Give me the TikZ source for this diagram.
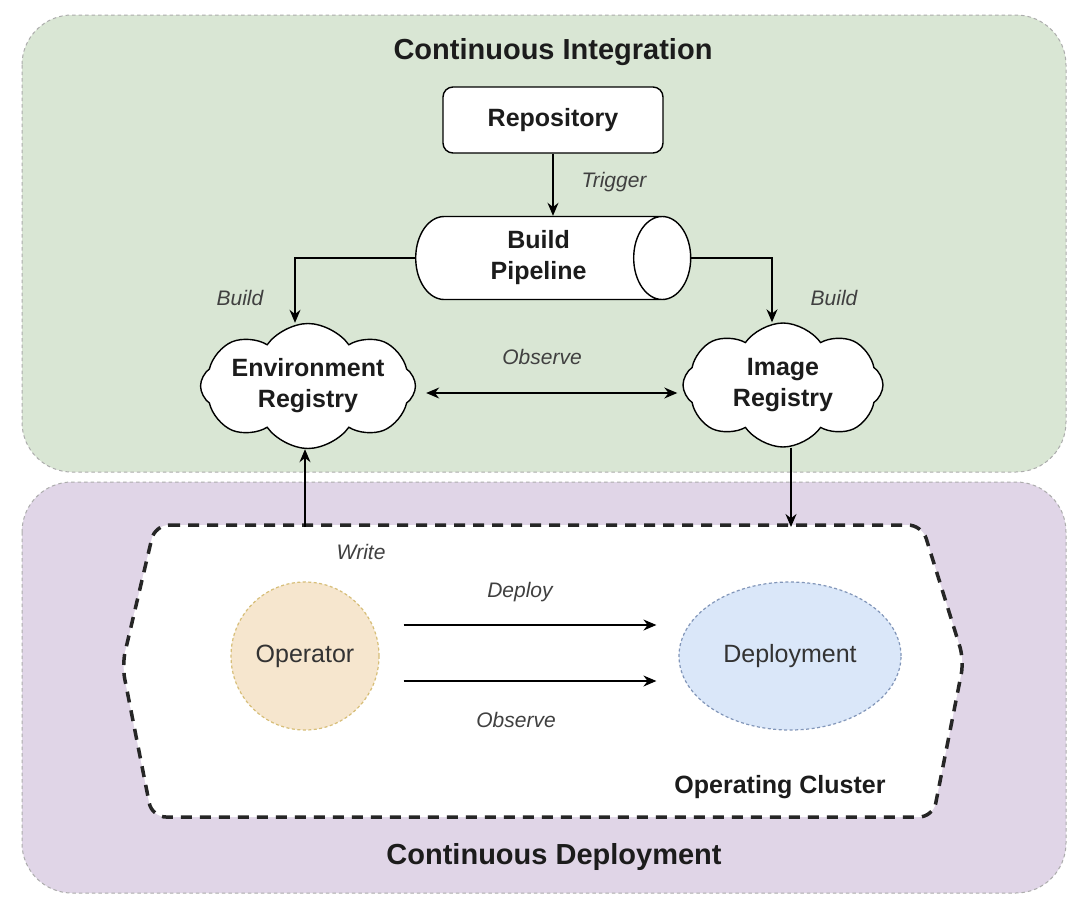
\documentclass[tikz,border=0pt]{standalone}
\usepackage{fontspec}
\setmainfont{Liberation Sans}
\usetikzlibrary{shapes.geometric,shapes.symbols,arrows.meta,calc}
\definecolor{cigreen}{RGB}{217,230,212}
\definecolor{cdpurple}{RGB}{224,213,231}
\definecolor{opfill}{RGB}{246,230,206}
\definecolor{opdraw}{RGB}{215,190,120}
\definecolor{depfill}{RGB}{218,231,249}
\definecolor{depdraw}{RGB}{130,150,185}
\definecolor{lblcol}{RGB}{64,64,64}
\definecolor{txtcol}{RGB}{28,28,28}
\begin{document}
\begin{tikzpicture}[x=1pt,y=-1pt,
  container/.style={draw=gray!65, dash pattern=on 3.5pt off 3pt, line width=1pt, rounded corners=50pt},
  titletxt/.style={font=\fontsize{29}{34}\selectfont\bfseries, text=txtcol},
  boxtxt/.style={font=\fontsize{25}{31}\selectfont\bfseries, text=txtcol, align=center},
  lbl/.style={font=\fontsize{21}{25}\selectfont\itshape, text=lblcol},
  arr/.style={-{Stealth[length=13pt,width=11pt]}, line width=1.4pt},
  darr/.style={{Stealth[length=13pt,width=11pt]}-{Stealth[length=13pt,width=11pt]}, line width=1.4pt},
  cloudnode/.style={cloud, cloud puffs=8, cloud puff arc=110, cloud ignores aspect, draw, fill=white, line width=1.4pt, inner sep=0pt},
  clusterline/.style={draw=black!85, line width=3.5pt, dash pattern=on 11pt off 8pt, fill=white, rounded corners=14pt},
]
\fill[white] (0,0) rectangle (1080,903);
\useasboundingbox (0,0) rectangle (1080,903);

% containers
\draw[container, fill=cigreen] (22,15) rectangle (1066,472);
\draw[container, fill=cdpurple] (22,482) rectangle (1066,893);

\node[titletxt] (tci) at (553,52) {Continuous Integration};
\node[titletxt] (tcd) at (554,857) {Continuous Deployment};

% repository
\node[boxtxt, draw, fill=white, rounded corners=10pt, line width=1.4pt,
      minimum width=220pt, minimum height=66pt] (repo) at (553,120) {Repository};

% build pipeline
\node[cylinder, draw, fill=white, line width=1.4pt, shape aspect=1.05,
      minimum height=275pt, minimum width=83pt, inner sep=0pt,
      boxtxt, anchor=west] (bp) at (415,258) {Build\\Pipeline};

% clouds
\node[cloudnode, boxtxt, minimum width=214pt, minimum height=125pt] (env) at (308,386) {Environment\\Registry};
\node[cloudnode, boxtxt, minimum width=200pt, minimum height=124pt] (img) at (783,385) {Image\\Registry};

% operating cluster
\draw[clusterline] (155,525) -- (922,525) -- (964,660) -- (933,817) -- (152,817) -- (122,665) -- cycle;
\node[boxtxt] (oc) at (780,787) {Operating Cluster};

\node[circle, draw=opdraw, fill=opfill, dash pattern=on 3pt off 2.5pt, line width=1.2pt,
      minimum size=148pt, font=\fontsize{25}{30}\selectfont, text=black!80] (op) at (305,656) {Operator};
\node[ellipse, draw=depdraw, fill=depfill, dash pattern=on 3pt off 2.5pt, line width=1.2pt,
      minimum width=222pt, minimum height=148pt, font=\fontsize{25}{30}\selectfont, text=black!80] (dep) at (790,656) {Deployment};

\coordinate (wtop) at (305,527);
\coordinate (itop) at (791,527);

% connectors
\draw[arr] (repo.south) -- (repo.south |- bp.north);
\draw[arr] (bp.west) -| ([xshift=-13pt]env.north);
\draw[arr] (bp.east) -| ([xshift=-11pt]img.north);
\draw[darr] ($(env.east)+(10,7)$) -- ($(env.east -| img.west)+(-5,7)$);
\draw[arr] (wtop) -- (wtop |- env.south);
\draw[arr] (itop |- img.south) -- (itop);
\draw[arr] ($(op.east)+(24,-31)$) -- ($(op.east -| dep.west)+(-22,-31)$);
\draw[arr] ($(op.east)+(24,25)$) -- ($(op.east -| dep.west)+(-22,25)$);

% labels
\node[lbl] (ltrig) at (614,182) {Trigger};
\node[lbl] (lb1) at (240,298) {Build};
\node[lbl] (lb2) at (834,298) {Build};
\node[lbl] (lobs1) at (542,357) {Observe};
\node[lbl] (lwr) at (361,552) {Write};
\node[lbl] (ldep) at (520,592) {Deploy};
\node[lbl] (lobs2) at (516,720) {Observe};
\end{tikzpicture}
\end{document}
